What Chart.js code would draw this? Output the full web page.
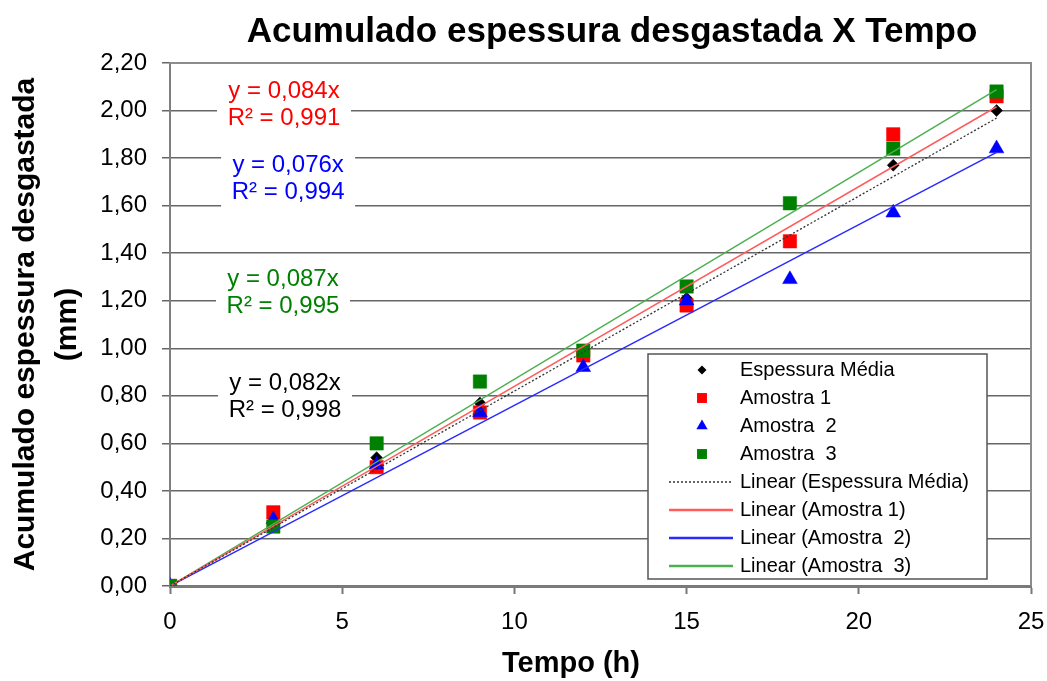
<!DOCTYPE html>
<html><head><meta charset="utf-8">
<script src="https://cdn.jsdelivr.net/npm/chart.js@4/dist/chart.umd.min.js"></script>
<style>html,body{margin:0;padding:0;background:#fff;overflow:hidden}canvas{display:block}</style>
</head><body>
<canvas id="c" width="1047" height="681"></canvas>
<script>
const FONT = '"Liberation Sans", Arial, Helvetica, sans-serif';

// ---- data ----
const tempo = [0, 3, 6, 9, 12, 15, 18, 21, 24];
const espessuraMedia = [0, 0.27, 0.54, 0.77, 0.98, 1.21, 1.45, 1.77, 2.00];
const amostra1 = [0, 0.31, 0.50, 0.73, 0.97, 1.18, 1.45, 1.90, 2.06];
const amostra2 = [0, 0.28, 0.51, 0.73, 0.92, 1.20, 1.29, 1.57, 1.84];
const amostra3 = [0, 0.25, 0.60, 0.86, 0.99, 1.26, 1.61, 1.84, 2.08];
const seriesLabels = ['Espessura Média', 'Amostra 1', 'Amostra  2', 'Amostra  3'];
const trendLabels = seriesLabels.map(s => 'Linear (' + s + ')');
const slopes = [0.082, 0.084, 0.076, 0.087];
const slopeText = ['0,082', '0,084', '0,076', '0,087'];
const r2Text = ['0,998', '0,991', '0,994', '0,995'];
const trendRange = [0, 24];
const chartTitle = 'Acumulado espessura desgastada X Tempo';
const xTitle = 'Tempo (h)';
const yTitle = ['Acumulado espessura desgastada', '(mm)'];

// ---- styles ----
const pointColors = ['#000000', '#ff0000', '#0000ff', '#008000'];
const lineColors = ['#333333', '#ff5c5c', '#2a2aff', '#4caf50'];
const pointStyles = ['rectRot', 'rect', 'triangle', 'rect'];
const pointRadii = [6, 9.5, 8.5, 9.5];
const legendRadii = [4.5, 7, 6.5, 7];
const drawOrder = [7, 6, 5, 4]; // lower = on top

const seriesValues = [espessuraMedia, amostra1, amostra2, amostra3];

const datasets = [];
seriesValues.forEach((vals, i) => {
  datasets.push({
    label: seriesLabels[i],
    data: tempo.map((t, k) => ({x: t, y: vals[k]})),
    showLine: false,
    pointStyle: pointStyles[i],
    pointRadius: pointRadii[i],
    pointHoverRadius: pointRadii[i],
    pointBackgroundColor: pointColors[i],
    pointBorderColor: pointColors[i],
    pointBorderWidth: 0.5,
    order: drawOrder[i],
    _legend: {kind: 'point', idx: i}
  });
});
slopes.forEach((m, i) => {
  datasets.push({
    label: trendLabels[i],
    data: trendRange.map(t => ({x: t, y: m * t})),
    showLine: true,
    pointRadius: 0,
    borderColor: lineColors[i],
    borderWidth: i === 0 ? 1.3 : 1.5,
    borderDash: i === 0 ? [2, 2] : [],
    order: i,
    _legend: {kind: 'line', idx: i}
  });
});

// equation label layout (centers, in data units)
const eqLayout = [
  {series: 0, x: 3.34, y: 0.797},
  {series: 1, x: 3.31, y: 2.024},
  {series: 2, x: 3.43, y: 1.714},
  {series: 3, x: 3.28, y: 1.231}
];

function drawMarker(ctx, style, x, y, r, color) {
  ctx.save();
  ctx.fillStyle = color;
  ctx.beginPath();
  if (style === 'rect') {
    const s = Math.SQRT1_2 * r;
    ctx.rect(x - s, y - s, 2 * s, 2 * s);
  } else if (style === 'rectRot') {
    ctx.moveTo(x - r, y); ctx.lineTo(x, y - r); ctx.lineTo(x + r, y); ctx.lineTo(x, y + r); ctx.closePath();
  } else if (style === 'triangle') {
    ctx.moveTo(x, y - r);
    ctx.lineTo(x + Math.sin(2 * Math.PI / 3) * r, y - Math.cos(2 * Math.PI / 3) * r);
    ctx.lineTo(x + Math.sin(4 * Math.PI / 3) * r, y - Math.cos(4 * Math.PI / 3) * r);
    ctx.closePath();
  }
  ctx.fill();
  ctx.restore();
}

const decorPlugin = {
  id: 'decor',
  beforeDatasetsDraw(chart) {
    const {ctx, chartArea: a, scales: {x, y}} = chart;
    ctx.save();
    // plot border (top/right)
    ctx.strokeStyle = '#8c8c8c';
    ctx.lineWidth = 2;
    ctx.beginPath();
    ctx.moveTo(a.left, a.top); ctx.lineTo(a.right, a.top); ctx.lineTo(a.right, a.bottom);
    ctx.stroke();
    // equation labels
    ctx.font = '24px ' + FONT;
    ctx.textAlign = 'center';
    ctx.textBaseline = 'middle';
    eqLayout.forEach(e => {
      const cx = x.getPixelForValue(e.x);
      const cy = y.getPixelForValue(e.y);
      ctx.fillStyle = '#ffffff';
      ctx.fillRect(cx - 67, cy - 29, 134, 58);
      ctx.fillStyle = pointColors[e.series];
      ctx.fillText('y = ' + slopeText[e.series] + 'x', cx, cy - 13.5);
      ctx.fillText('R² = ' + r2Text[e.series], cx, cy + 13.5);
    });
    ctx.restore();
  },
  afterDraw(chart) {
    const {ctx} = chart;
    ctx.save();
    ctx.fillStyle = '#000';
    ctx.textAlign = 'center';
    ctx.textBaseline = 'alphabetic';
    // chart title
    ctx.font = 'bold 35px ' + FONT;
    ctx.fillText(chartTitle, 612, 42);
    // x axis title
    ctx.font = 'bold 29px ' + FONT;
    ctx.textBaseline = 'middle';
    ctx.fillText(xTitle, 571, 664);
    // legend
    const lx = 648, ly = 354, lw = 339, lh = 225;
    ctx.fillStyle = '#ffffff';
    ctx.fillRect(lx, ly, lw, lh);
    ctx.strokeStyle = '#555555';
    ctx.lineWidth = 1.5;
    ctx.strokeRect(lx, ly, lw, lh);
    ctx.font = '20px ' + FONT;
    ctx.textAlign = 'left';
    ctx.textBaseline = 'middle';
    chart.data.datasets.forEach((ds, k) => {
      const ry = ly + 16 + k * 28;
      const info = ds._legend;
      if (info.kind === 'point') {
        drawMarker(ctx, pointStyles[info.idx], lx + 54, ry, legendRadii[info.idx], pointColors[info.idx]);
      } else {
        ctx.save();
        ctx.strokeStyle = lineColors[info.idx];
        ctx.lineWidth = info.idx === 0 ? 1.3 : 2.5;
        ctx.setLineDash(ds.borderDash || []);
        ctx.beginPath();
        ctx.moveTo(lx + 21, ry); ctx.lineTo(lx + 85, ry);
        ctx.stroke();
        ctx.restore();
      }
      ctx.fillStyle = '#000';
      ctx.fillText(ds.label, lx + 92, ry);
    });
    ctx.restore();
  }
};

new Chart(document.getElementById('c'), {
  type: 'scatter',
  data: {datasets},
  options: {
    responsive: false,
    animation: false,
    layout: {padding: {left: 0, right: 0, top: 63, bottom: 0}},
    plugins: {
      legend: {display: false},
      tooltip: {enabled: false},
      title: {display: false}
    },
    scales: {
      x: {
        type: 'linear',
        min: 0, max: 25,
        ticks: {stepSize: 5, color: '#000', font: {family: FONT, size: 24}, padding: 14, maxRotation: 0},
        grid: {drawOnChartArea: false, drawTicks: true, tickLength: 8, tickColor: '#777', tickWidth: 2},
        border: {display: true, color: '#7a7a7a', width: 3},
        afterFit(s) { s.height = 95; s.paddingRight = 16; s.paddingLeft = 0; }
      },
      y: {
        type: 'linear',
        min: 0, max: 2.2,
        ticks: {
          stepSize: 0.2, color: '#000', font: {family: FONT, size: 24}, padding: 15,
          callback: v => v.toFixed(2).replace('.', ',')
        },
        grid: {color: '#666', lineWidth: 1.5, drawTicks: true, tickLength: 8, tickColor: '#666'},
        border: {display: true, color: '#7f7f7f', width: 2},
        title: {
          display: true,
          text: yTitle,
          color: '#000',
          font: {family: FONT, size: 30, weight: 'bold', lineHeight: 1.4},
          padding: {top: 5, bottom: 0}
        },
        afterFit(s) { s.width = 170; s.paddingTop = 0; s.paddingBottom = 0; }
      }
    }
  },
  plugins: [decorPlugin]
});
</script>
</body></html>
